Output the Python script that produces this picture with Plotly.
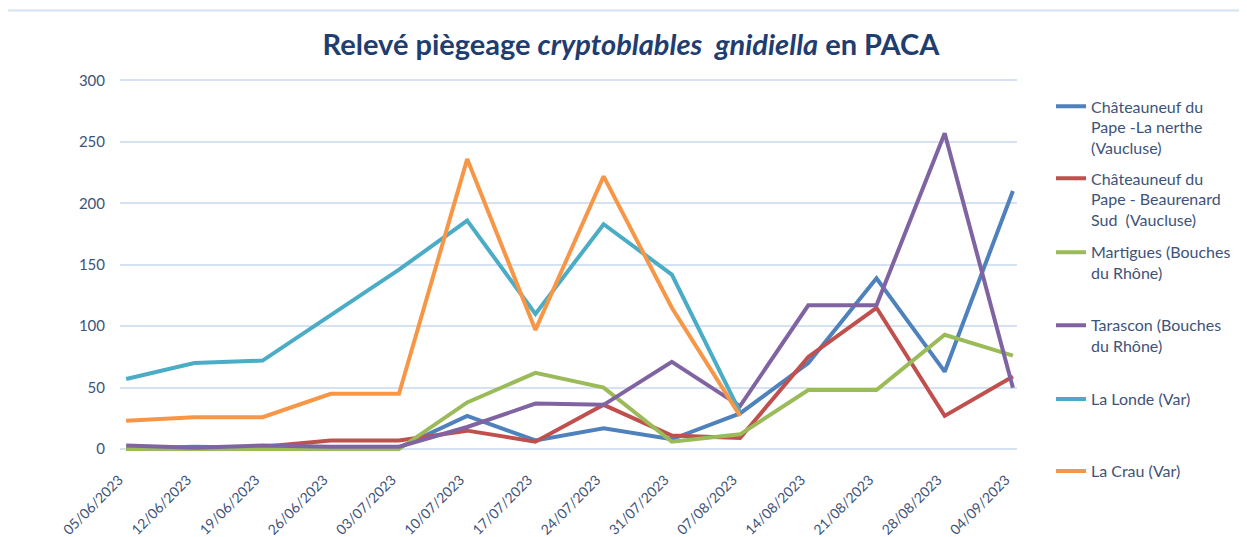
import plotly.graph_objects as go

dates = ["05/06/2023", "12/06/2023", "19/06/2023", "26/06/2023", "03/07/2023",
         "10/07/2023", "17/07/2023", "24/07/2023", "31/07/2023", "07/08/2023",
         "14/08/2023", "21/08/2023", "28/08/2023", "04/09/2023"]

chateauneuf_nerthe = [0, 2, 1, 1, 1, 27, 7, 17, 8, 29, 70, 139, 63, 210]
chateauneuf_beaurenard = [0, 0, 2, 7, 7, 15, 6, 36, 11, 9, 75, 115, 27, 59]
martigues = [0, 0, 0, 0, 0, 38, 62, 50, 6, 12, 48, 48, 93, 76]
tarascon = [3, 1, 3, 2, 2, 18, 37, 36, 71, 35, 117, 117, 257, 50]
la_londe = [57, 70, 72, 109, 146, 186, 110, 183, 142, 30]
la_crau = [23, 26, 26, 45, 45, 236, 97, 222, 115, 27]

series_names = [
    "Châteauneuf du<br>Pape -La nerthe<br>(Vaucluse)",
    "Châteauneuf du<br>Pape - Beaurenard<br>Sud  (Vaucluse)",
    "Martigues (Bouches<br>du Rhône)",
    "Tarascon (Bouches<br>du Rhône)",
    "La Londe (Var)",
    "La Crau (Var)",
]
series_values = [chateauneuf_nerthe, chateauneuf_beaurenard, martigues,
                 tarascon, la_londe, la_crau]
colors = ["#4F81BD", "#C0504D", "#9BBB59", "#8064A2", "#4BACC6", "#F79646"]

# the page body has an 8px margin: work in screen pixels, convert to figure px
OFF = 8
W, H = 1247 - OFF, 537 - OFF
L, R = 120 - OFF, 1017 - OFF
y300, y0 = 80 - OFF, 449 - OFF
y_lo, y_hi = -4, 302
px_per_unit = (y0 - y300) / 300.0
T = y300 - (y_hi - 300) * px_per_unit
B = y0 + (0 - y_lo) * px_per_unit
plot_h = B - T
plot_w = R - L

def py(ypx_screen):
    return (B - (ypx_screen - OFF)) / plot_h

def px(xpx_screen):
    return ((xpx_screen - OFF) - L) / plot_w

text_col = "#3E5378"
font_fam = "Lato, 'Open Sans', sans-serif"

fig = go.Figure()
legend_tops = [89, 161, 235, 308, 382, 454]
legend_keys = ["legend", "legend2", "legend3", "legend4", "legend5", "legend6"]
for name, vals, col, lk in zip(series_names, series_values, colors, legend_keys):
    fig.add_trace(go.Scatter(
        x=dates[:len(vals)], y=vals, name=name, mode="lines",
        line=dict(color=col, width=4), legend=lk,
    ))

layout_legends = {}
for lk, top in zip(legend_keys, legend_tops):
    layout_legends[lk] = dict(
        x=px(1051), y=py(top), xanchor="left", yanchor="top",
        valign="top", bgcolor="rgba(0,0,0,0)",
        font=dict(family=font_fam, size=16, color=text_col),
    )

fig.update_layout(
    width=W, height=H,
    margin=dict(l=L, r=W - R, t=T, b=H - B, pad=0, autoexpand=False),
    paper_bgcolor="white", plot_bgcolor="white",
    showlegend=True,
    title=dict(
        text="Relevé piègeage <i>cryptoblables  gnidiella</i> en PACA",
        x=px(631), xref="paper", xanchor="center",
        y=1 - (45 - OFF) / H, yref="container", yanchor="middle",
        font=dict(family=font_fam, size=29, color="#1F3D6F", weight="bold"),
    ),
    xaxis=dict(
        type="category", categoryorder="array", categoryarray=dates,
        range=[-0.09, 13.06], showgrid=False, zeroline=False, showline=False,
        ticks="", tickangle=-45, automargin=False,
        ticklabelstandoff=14, ticklabelshift=-7,
        tickfont=dict(family=font_fam, size=14, color=text_col),
    ),
    yaxis=dict(
        range=[y_lo, y_hi], tickvals=[0, 50, 100, 150, 200, 250, 300],
        showgrid=True, gridcolor="#D5E2F3", gridwidth=1.5,
        zeroline=False, showline=False, ticks="", automargin=False,
        ticklabelstandoff=14,
        tickfont=dict(family=font_fam, size=15, color=text_col),
    ),
    shapes=[dict(
        type="rect", xref="paper", yref="paper",
        x0=px(7), x1=px(1270), y0=py(560), y1=py(10),
        line=dict(color="#D6E2F2", width=2), fillcolor="rgba(0,0,0,0)",
        layer="below",
    )],
    **layout_legends,
)

fig.write_html("out.html")
